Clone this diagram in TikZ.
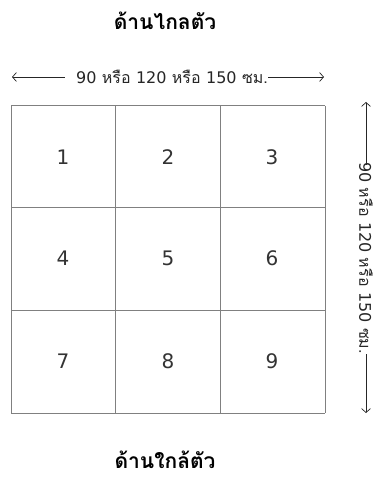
\documentclass[tikz,border=0pt]{standalone}
\usepackage{fontspec}
\newfontfamily\thaifont[Script=Thai]{Loma}
\newfontfamily\digfont{DejaVu Sans}
\usetikzlibrary{arrows.meta}
\newcommand{\dg}[1]{{\digfont #1}}
\begin{document}
\begin{tikzpicture}[x=1pt,y=-1pt,
  gridline/.style={draw=black!50,line width=1pt},
  num/.style={font=\digfont\fontsize{20}{20}\selectfont,text=black!80},
  title/.style={font=\thaifont\bfseries\fontsize{21}{21}\selectfont,inner sep=0pt,text depth=0pt,anchor=base},
  dim/.style={font=\thaifont\fontsize{16}{16}\selectfont,text=black!85,inner sep=0pt},
  arr/.style={draw=black!85,line width=0.7pt,-{Straight Barb[length=4pt,width=9pt]}}]
\useasboundingbox (0,0) rectangle (372,478);
% grid
\foreach \x in {11,115,220,325} \draw[gridline] (\x,106) -- (\x,413);
\foreach \y in {106,207,310,413} \draw[gridline] (11,\y) -- (325,\y);
% numbers
\node[num] (n1) at (63,157) {1};
\node[num] (n2) at (168,157) {2};
\node[num] (n3) at (272,157) {3};
\node[num] (n4) at (63,258) {4};
\node[num] (n5) at (168,258) {5};
\node[num] (n6) at (272,258) {6};
\node[num] (n7) at (63,361) {7};
\node[num] (n8) at (168,361) {8};
\node[num] (n9) at (272,361) {9};
% titles
\node[title] (far) at (165,30) {ด้านไกลตัว};
\node[title] (near) at (165,468) {ด้านใกล้ตัว};
% horizontal dimension
\coordinate (hl) at (12,77);
\coordinate (hr) at (324,77);
\node[dim] (ht) at (172,77) {\dg{90} หรือ \dg{120} หรือ \dg{150} ซม.};
\draw[arr] ([xshift=-11pt]ht.west) -- (hl);
\draw[arr] (ht.east) -- (hr);
% vertical dimension
\coordinate (vt) at (366,102);
\coordinate (vb) at (366,413);
\node[dim,rotate=-90] (vtx) at (366,258) {\dg{90} หรือ \dg{120} หรือ \dg{150} ซม.};
\draw[arr] ([yshift=-3pt]vtx.west) -- (vt);
\draw[arr] (vtx.east) -- (vb);
\end{tikzpicture}
\end{document}
